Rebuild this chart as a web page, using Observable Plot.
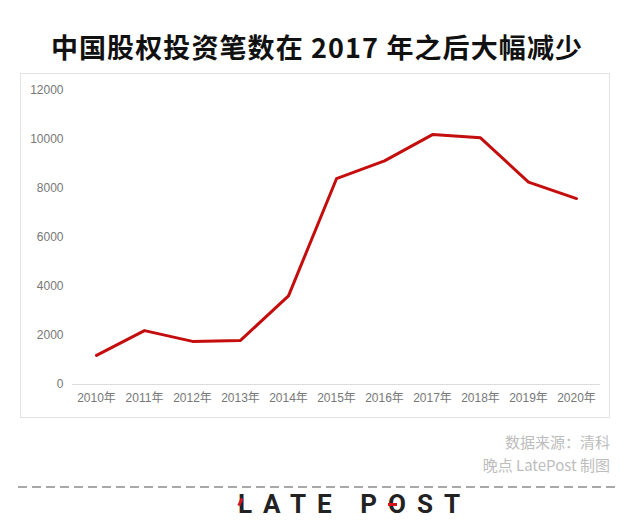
<!DOCTYPE html>
<html>
<head>
<meta charset="utf-8">
<script src="https://cdn.jsdelivr.net/npm/d3@7"></script>
<script src="https://cdn.jsdelivr.net/npm/@observablehq/plot@0.6"></script>
<style>
  html, body { margin: 0; padding: 0; background: #fff; }
  body { width: 634px; height: 532px; position: relative; overflow: hidden; font-family: "Noto Sans CJK SC", "Noto Sans", sans-serif; }
  #title { position: absolute; left: 0; top: 27px; width: 634px; text-align: center; font-size: 27px; font-weight: 700; color: #111; line-height: 40px; letter-spacing: 1.1px; }
  #frame { position: absolute; left: 20px; top: 73px; width: 590px; height: 345px; border: 1px solid #e2e2e2; box-sizing: border-box; }
  #source { position: absolute; right: 24px; top: 430px; text-align: right; font-size: 15px; color: #bdbdbd; line-height: 23px; }
  #dash { position: absolute; left: 18px; top: 486px; width: 598px; height: 2px; background: repeating-linear-gradient(to right, #a8a8a8 0 9px, transparent 9px 14px); }
  #logo { position: absolute; left: 238px; top: 488px; white-space: nowrap; font-family: Roboto, "DejaVu Sans", sans-serif; font-weight: 700; font-size: 26px; letter-spacing: 11px; color: #222; line-height: 32px; }
  #logo span { position: relative; }
  #logo .l::after { content: ""; position: absolute; left: 1px; top: 9px; width: 3px; height: 8px; background: #d6121b; transform: rotate(25deg); }
  #logo .o::after { content: ""; position: absolute; left: 0px; top: 14px; width: 9px; height: 3px; background: #d6121b; }
</style>
</head>
<body>
<div id="title">中国股权投资笔数在 2017 年之后大幅减少</div>
<div id="frame"></div>
<div id="source">数据来源：清科<br>晚点 LatePost 制图</div>
<div id="dash"></div>
<div id="logo"><span class="l">L</span>ATE P<span class="o">O</span>ST</div>
<script>
const years = ["2010年","2011年","2012年","2013年","2014年","2015年","2016年","2017年","2018年","2019年","2020年"];
const deals = [1190, 2200, 1760, 1800, 3620, 8400, 9130, 10200, 10070, 8260, 7590];
const yTicks = [0, 2000, 4000, 6000, 8000, 10000, 12000];

const data = years.map((y, i) => ({year: y, value: deals[i]}));

const chart = Plot.plot({
  width: 588,
  height: 343,
  marginLeft: 51,
  marginRight: 9,
  marginTop: 16,
  marginBottom: 33,
  style: { fontFamily: "'Liberation Sans', 'Noto Sans CJK SC', sans-serif", fontSize: "12px", color: "#777", background: "transparent" },
  x: { type: "point", domain: years, padding: 0.5, label: null },
  y: { domain: [0, 12000], ticks: yTicks, label: null },
  marks: [
    Plot.ruleY([0], { stroke: "#dcdcdc", strokeWidth: 1 }),
    Plot.axisY({ ticks: yTicks, tickSize: 0, tickPadding: 9, tickFormat: d => String(d), fill: "#777", label: null }),
    Plot.axisX({ tickSize: 0, tickPadding: 9, fill: "#777", label: null }),
    Plot.line(data, { x: "year", y: "value", stroke: "#c40d0d", strokeWidth: 3, strokeLinejoin: "round", strokeLinecap: "round" })
  ]
});
chart.style.position = "absolute";
chart.style.left = "0px";
chart.style.top = "0px";
document.getElementById("frame").appendChild(chart);
</script>
</body>
</html>
